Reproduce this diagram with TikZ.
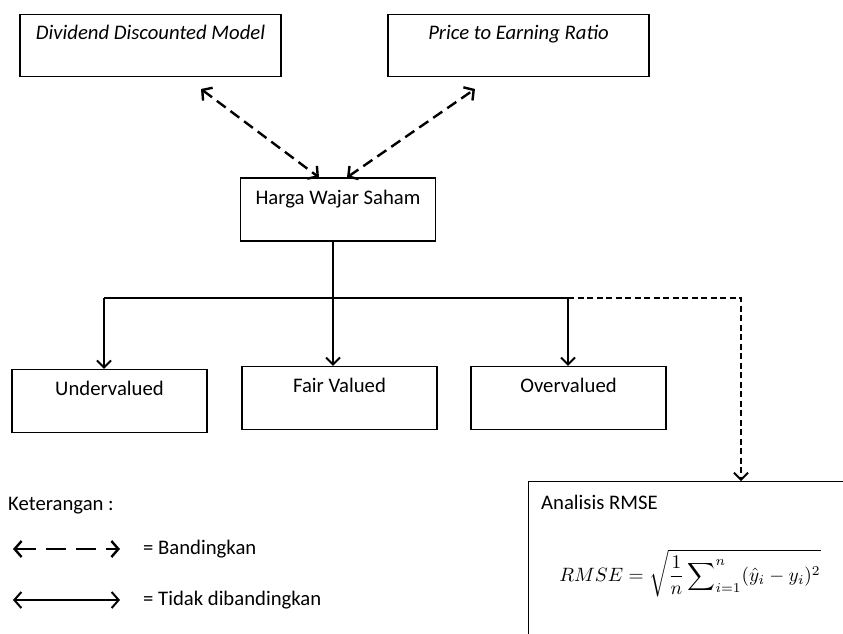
\documentclass[tikz,border=0pt]{standalone}
\usepackage{amsmath}
\usepackage{graphicx}
\usepackage{fontspec}
\setmainfont{Carlito}
\usetikzlibrary{arrows.meta,positioning}

\begin{document}
\begin{tikzpicture}[x=1pt,y=-1pt,
  box/.style={draw,line width=1.2pt,inner sep=0pt,minimum width=#1,
    text height=26pt,text depth=37pt,font=\fontsize{20.7}{22}\selectfont},
  cmp/.style={line width=2.4pt,dash pattern=on 11pt off 6pt,
    {Straight Barb[length=7pt,width=16pt]}-{Straight Barb[length=7pt,width=16pt]}},
  flow/.style={line width=2pt,-{Straight Barb[length=7pt,width=14pt]}},
  legend/.style={font=\fontsize{20.7}{22}\selectfont,anchor=west,inner sep=0pt}]
   \clip (0,0) rectangle (843,633);
   \useasboundingbox (0,0) rectangle (843,633);
   % methods
   \node [box=261pt,text height=25pt,text depth=37pt] (ddm) at (150.5,45.5) {\itshape Dividend Discounted Model};
   \node [box=261pt,text height=25pt,text depth=37pt] (per) at (518.5,45.5) {\itshape Price to Earning Ratio};
   \node [box=195pt] (hws) at (338,209.5) {Harga Wajar Saham};
   % results
   \node [box=195pt] (under) at (109.5,401) {Undervalued};
   \node [box=195pt] (fair) at (339.5,398) {Fair Valued};
   \node [box=195pt] (over) at (568.5,398) {Overvalued};
   \node [draw,line width=1.2pt,minimum width=420pt,minimum height=220pt,anchor=north west] (rmse) at (528,481) {};
   \node [legend] (rmsetitle) at (541,502) {Analisis RMSE};
   \node [inner sep=0pt] (eq) at (690,573)
     {\scalebox{1.93}{$\displaystyle RMSE=\sqrt{\frac{1}{n}\sum\nolimits_{i=1}^{n}(\hat{y}_i-y_i)^2}$}};
   % compare arrows
   \coordinate (ddmend) at (201,89);
   \coordinate (perend) at (475,89);
   \draw [cmp] (ddmend) -- ([xshift=-19pt]hws.north);
   \draw [cmp] ([xshift=9pt]hws.north) -- (perend);
   % branches
   \coordinate (split) at (333,298);
   \coordinate (lb) at (104,298);
   \coordinate (rb) at (568,298);
   \coordinate (db) at (741,298);
   \draw [line width=2.2pt] (split |- hws.south) -- (split);
   \draw [line width=2.2pt] (lb) -- (rb);
   \draw [flow] (lb) -- (lb |- under.north);
   \draw [flow] (split) -- (split |- fair.north);
   \draw [flow] (rb) -- (rb |- over.north);
   \draw [line width=1.8pt,dash pattern=on 6pt off 3.5pt,-{Straight Barb[length=7pt,width=14pt]}]
     (rb) -- (db) -- (db |- rmse.north);
   % legend
   \node [legend] (ket) at (8,506) {Keterangan :};
   \coordinate (l1a) at (13,549);
   \coordinate (l1b) at (120,549);
   \coordinate (l2a) at (13,600);
   \coordinate (l2b) at (120,600);
   \draw [line width=2.4pt,dash pattern=on 20pt off 10pt,
     {Straight Barb[length=7pt,width=16pt]}-{Straight Barb[length=7pt,width=16pt]}] (l1a) -- (l1b);
   \draw [line width=2pt,
     {Straight Barb[length=7pt,width=16pt]}-{Straight Barb[length=7pt,width=16pt]}] (l2a) -- (l2b);
   \node [legend] (band) at (143,549) {= Bandingkan};
   \node [legend] (tidak) at (143,600) {= Tidak dibandingkan};
\end{tikzpicture}
\end{document}
